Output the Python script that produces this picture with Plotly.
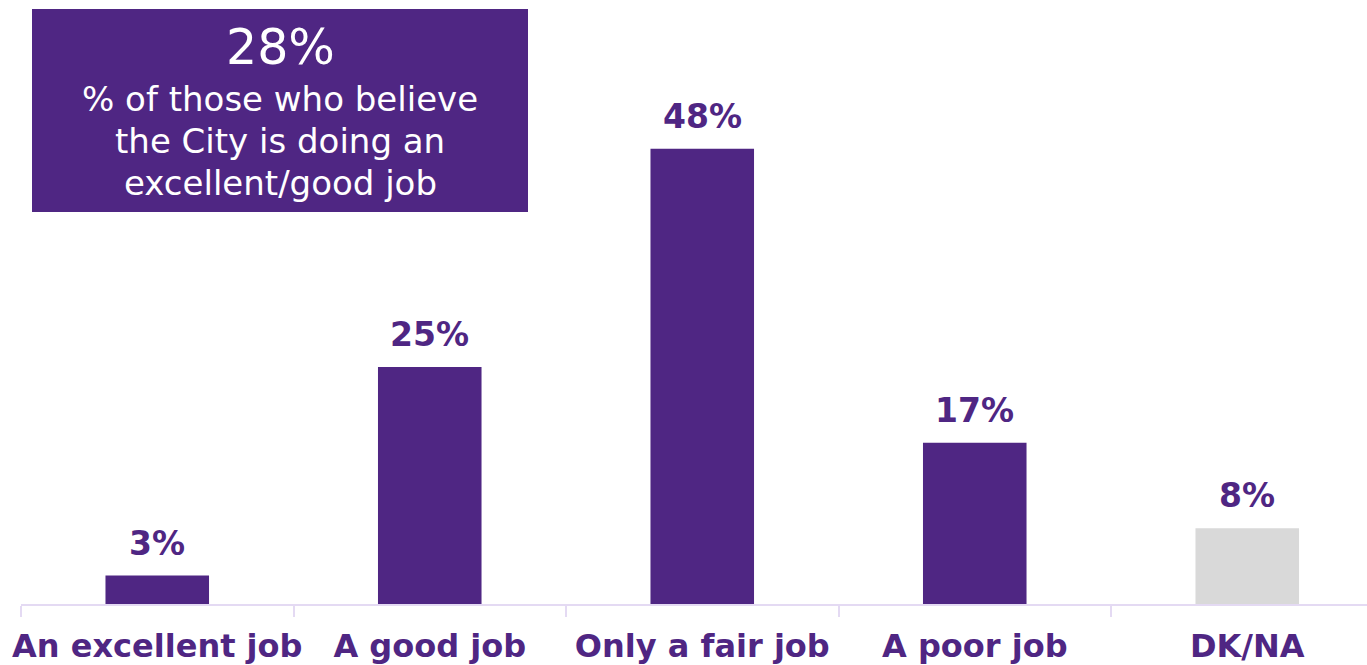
import plotly.graph_objects as go

# Survey responses: how well is the City doing its job
categories = ["An excellent job", "A good job", "Only a fair job", "A poor job", "DK/NA"]
shares = [3, 25, 48, 17, 8]
bar_colors = ["#4F2683", "#4F2683", "#4F2683", "#4F2683", "#D9D9D9"]

headline_value = "28%"
headline_lines = ["% of those who believe", "the City is doing an", "excellent/good job"]

PURPLE = "#4F2683"
LAVENDER = "#E4DAF3"
FONT = "DejaVu Sans"

W, H = 1367, 665
M_L, M_R, M_T, M_B = 21, 0, 35, 61
plot_w = W - M_L - M_R
plot_h = H - M_T - M_B


def px_x(x):
    return (x - M_L) / plot_w


def px_y(y):
    return (H - M_B - y) / plot_h


fig = go.Figure()
fig.add_trace(go.Bar(
    x=categories,
    y=shares,
    marker=dict(color=bar_colors, line=dict(width=0)),
    width=0.38,
    hoverinfo="skip",
))

# Value labels above each bar
for cat, val in zip(categories, shares):
    fig.add_annotation(
        x=cat, y=val, xref="x", yref="y",
        text=f"{val}%", showarrow=False,
        xanchor="center", yanchor="bottom", yshift=11,
        font=dict(family=FONT, size=33, color=PURPLE, weight="bold"),
    )

# Headline callout box
fig.add_shape(
    type="rect", xref="paper", yref="paper",
    x0=px_x(32), x1=px_x(528), y0=px_y(212), y1=px_y(9),
    fillcolor=PURPLE, line=dict(width=0), layer="above",
)
fig.add_annotation(
    x=px_x(280), y=px_y(48), xref="paper", yref="paper",
    text=headline_value, showarrow=False, xanchor="center", yanchor="middle",
    font=dict(family=FONT, size=49, color="white"),
)
for i, line in enumerate(headline_lines):
    fig.add_annotation(
        x=px_x(280), y=px_y(99 + 42 * i), xref="paper", yref="paper",
        text=line, showarrow=False, xanchor="center", yanchor="middle",
        font=dict(family=FONT, size=34, color="white"),
    )

fig.update_layout(
    width=W, height=H,
    margin=dict(l=M_L, r=M_R, t=M_T, b=M_B, pad=0, autoexpand=False),
    paper_bgcolor="white", plot_bgcolor="white",
    showlegend=False,
    bargap=0.62,
    xaxis=dict(
        type="category",
        range=[-0.5, -0.5 + plot_w / 272.5],
        automargin=False,
        showline=True, linecolor=LAVENDER, linewidth=2,
        ticks="outside", tickson="boundaries", ticklen=11,
        tickcolor=LAVENDER, tickwidth=2, tickangle=0,
        ticklabelstandoff=13,
        tickfont=dict(family=FONT, size=32, color=PURPLE, weight="bold"),
        showgrid=False, zeroline=False,
    ),
    yaxis=dict(range=[0, 60], visible=False, showgrid=False, zeroline=False,
               automargin=False),
)

fig.write_html("out.html")
